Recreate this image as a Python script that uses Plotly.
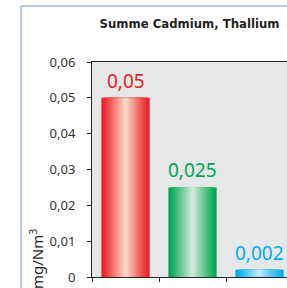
import plotly.graph_objects as go

categories = ["A", "B", "C"]
values = [0.05, 0.025, 0.002]
value_labels = ["0,05", "0,025", "0,002"]
tick_values = [0, 0.01, 0.02, 0.03, 0.04, 0.05, 0.06]
tick_labels = ["0", "0,01", "0,02", "0,03", "0,04", "0,05", "0,06"]

edge_colors = [(236, 30, 36), (0, 166, 81), (0, 170, 235)]
center_colors = [(253, 214, 196), (208, 234, 214), (190, 232, 250)]
label_colors = ["#ec1c24", "#00a651", "#00aeef"]

def mix(a, b, t):
    return "rgb(%d,%d,%d)" % tuple(round(a[i] + (b[i] - a[i]) * t) for i in range(3))

fig = go.Figure()
N = 14
W = 0.72
for k in range(N):
    t = k / (N - 1)
    w = W * (1 - k / N)
    colors = [mix(edge_colors[i], center_colors[i], t ** 1.1) for i in range(3)]
    fig.add_trace(go.Bar(
        x=categories, y=values, width=w,
        marker=dict(color=colors, line=dict(width=0)),
        hoverinfo="skip", showlegend=False,
    ))

for cat, val, lab, col in zip(categories, values, value_labels, label_colors):
    fig.add_annotation(x=cat, y=val, text=lab, showarrow=False,
                       xanchor="center", yanchor="bottom", yshift=2,
                       font=dict(family="Noto Sans", size=19, color=col))

fig.update_layout(
    width=287, height=288,
    margin=dict(l=92, r=0, t=62, b=11),
    barmode="overlay",
    paper_bgcolor="white", plot_bgcolor="#e6e7e8",
    title=dict(text="<b>Summe Cadmium, Thallium</b>", x=0.5, xref="paper",
               y=1 - 23 / 288, yref="container", yanchor="middle",
               font=dict(family="DejaVu Sans Condensed", size=13, color="#231f20")),
    showlegend=False,
)

fig.update_xaxes(
    range=[-0.5, 2.41], showline=True, linecolor="#222", linewidth=1, mirror=True,
    ticks="outside", tickson="boundaries", ticklen=4, tickcolor="#222",
    showticklabels=False, showgrid=False, zeroline=False,
)
fig.update_yaxes(
    range=[0, 0.06], tickvals=tick_values, ticktext=tick_labels,
    showline=True, linecolor="#222", linewidth=1,
    ticks="outside", ticklen=4, tickcolor="#222", ticklabelstandoff=9,
    tickfont=dict(family="Noto Sans", size=13, color="#333"),
    showgrid=False, zeroline=False,
)

fig.add_annotation(text="mg/Nm<sup>3</sup>", xref="paper", yref="paper",
                   x=(36 - 92) / 195, y=(277 - 259) / 215, textangle=-90,
                   showarrow=False, xanchor="center", yanchor="middle",
                   font=dict(family="Noto Sans", size=15, color="#231f20"))

# outer frame
fig.add_shape(type="line", xref="paper", yref="paper",
              x0=(21 - 92) / 195, x1=(21 - 92) / 195, y0=-0.2, y1=1 + 56 / 215,
              line=dict(color="#8ea6e0", width=1.2))
fig.add_shape(type="line", xref="paper", yref="paper",
              x0=(21 - 92) / 195, x1=1.1, y0=1 + 56 / 215, y1=1 + 56 / 215,
              line=dict(color="#b9c8ea", width=2))

fig.write_html(
    "out.html",
    config={"displayModeBar": False},
    post_script="document.body.style.margin='0';document.body.style.overflow='hidden';",
)
